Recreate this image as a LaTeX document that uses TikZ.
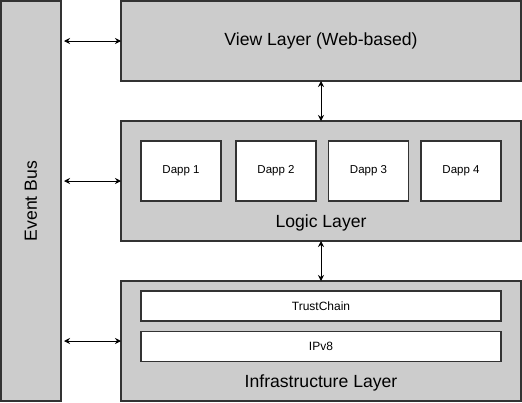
\documentclass[tikz,border=0pt]{standalone}
\usepackage{fontspec}
\setmainfont{Liberation Sans}
\usetikzlibrary{arrows.meta}
\definecolor{layerfill}{HTML}{CCCCCC}
\definecolor{edge}{HTML}{333333}
\tikzset{
  layer/.style={draw=edge, fill=layerfill, line width=1.2pt, inner sep=0pt, outer sep=0pt},
  inner/.style={draw=edge, fill=white, line width=1.2pt, inner sep=0pt, outer sep=0pt, font=\fontsize{11.5}{13}\selectfont},
  biglabel/.style={font=\fontsize{17.6}{20}\selectfont, inner sep=0pt},
  link/.style={{Stealth[length=6pt,width=6pt]}-{Stealth[length=6pt,width=6pt]}, line width=0.9pt, black},
}
\begin{document}
\begin{tikzpicture}[x=1pt,y=-1pt]
\useasboundingbox (0,0) rectangle (522,402);
% event bus
\node[layer, minimum width=60pt, minimum height=400pt] (eventbus) at (31,201) {};
\node[biglabel, rotate=90] (eventbuslabel) at (31,201) {Event Bus};
% view layer
\node[layer, minimum width=400pt, minimum height=80pt, biglabel] (view) at (321,41) {View Layer (Web-based)};
% logic layer
\node[layer, minimum width=400pt, minimum height=120pt] (logic) at (321,181) {};
\node[biglabel] (logiclabel) at (321,223) {Logic Layer};
\node[inner, minimum width=80pt, minimum height=60pt] (d1) at (181,171) {Dapp 1};
\node[inner, minimum width=80pt, minimum height=60pt] (d2) at (276,171) {Dapp 2};
\node[inner, minimum width=80pt, minimum height=60pt] (d3) at (368.5,171) {Dapp 3};
\node[inner, minimum width=80pt, minimum height=60pt] (d4) at (461,171) {Dapp 4};
% infrastructure layer
\node[layer, minimum width=400pt, minimum height=120pt] (infra) at (321,341) {};
\node[biglabel] (infralabel) at (321,383) {Infrastructure Layer};
\node[inner, font=\fontsize{12}{14}\selectfont, minimum width=360pt, minimum height=30pt] (trust) at (321,306) {TrustChain};
\node[inner, font=\fontsize{12}{14}\selectfont, minimum width=360pt, minimum height=30pt] (ipv8) at (321,346.5) {IPv8};
% connectors
\draw[link, shorten <=3pt] (eventbus.east |- view.west) -- (view.west);
\draw[link, shorten <=3pt] (eventbus.east |- logic.west) -- (logic.west);
\draw[link, shorten <=3pt] (eventbus.east |- infra.west) -- (infra.west);
\draw[link] (view.south) -- (logic.north);
\draw[link] (logic.south) -- (infra.north);
\end{tikzpicture}
\end{document}
